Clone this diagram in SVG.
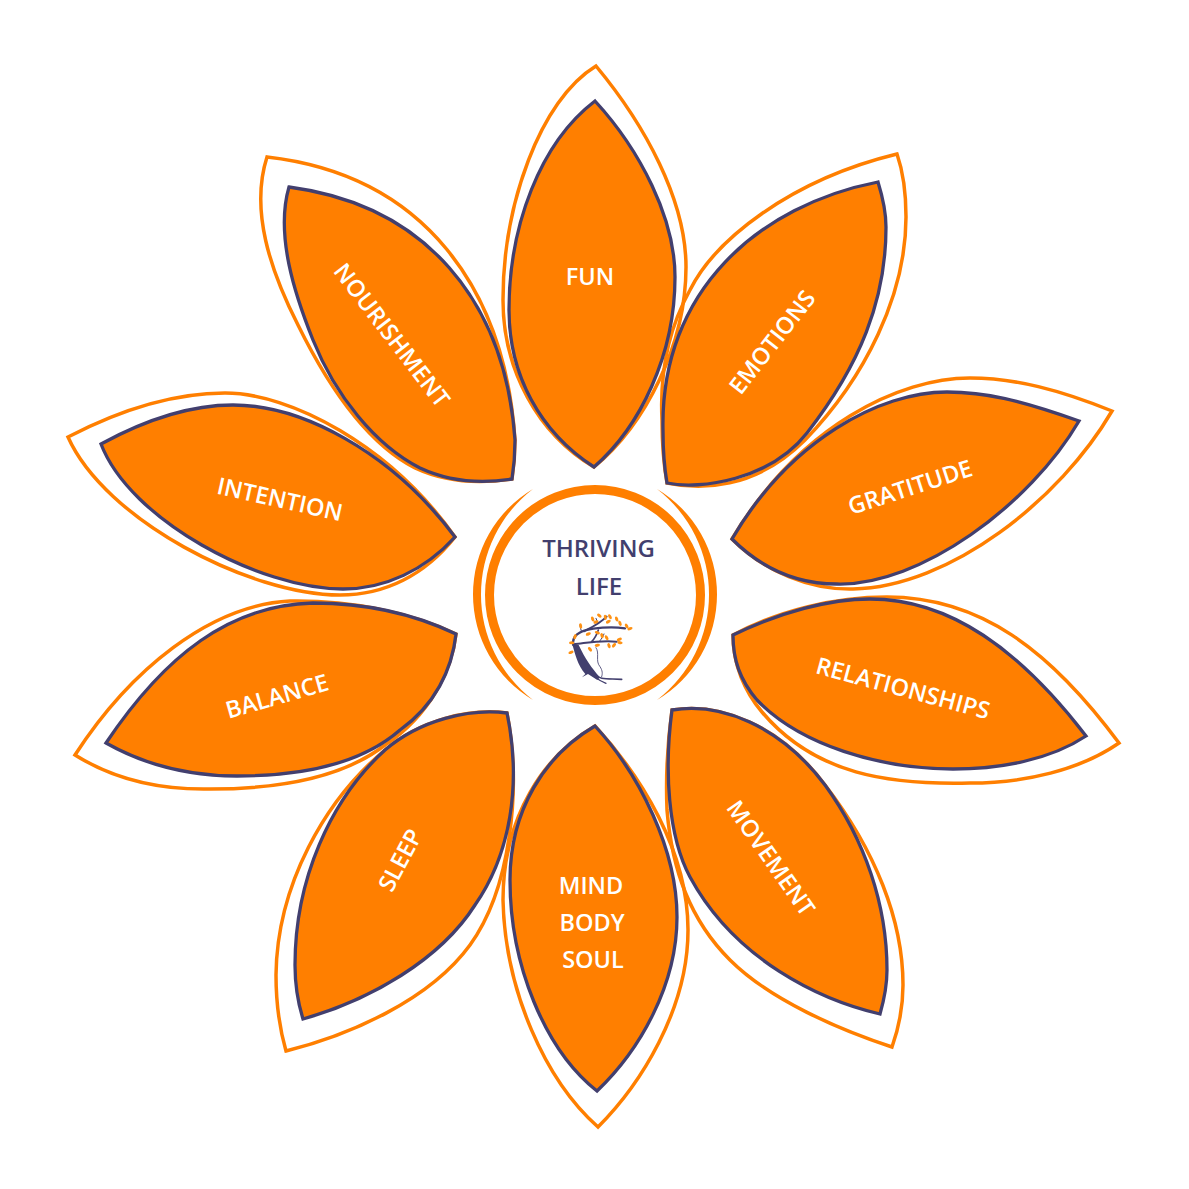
<svg xmlns="http://www.w3.org/2000/svg" width="1189" height="1189" viewBox="0 0 1189 1189">
<style>
.o{fill:none;stroke:#ff7f00;stroke-width:3.5;stroke-linejoin:miter}
.i{fill:#ff7f00;stroke:#423f6e;stroke-width:3.3;stroke-linejoin:miter}
.t{font-family:"Open Sans","Noto Sans",sans-serif;font-weight:600;font-size:23.5px;fill:#fff;text-anchor:middle}
.c{font-family:"Open Sans","Noto Sans",sans-serif;font-weight:600;font-size:24px;fill:#423f6e;text-anchor:middle}
.b{fill:none;stroke:#423f6e;stroke-linecap:round}
.l{fill:#ff9214}
</style>
<defs><ellipse id="leaf" class="l" rx="8" ry="4.500"/></defs>
<rect width="1189" height="1189" fill="#fff"/>
<g id="outlines">
<path class="o" d="M596,66 C540,100 503,205 503,300 C503,370 538,434 594,467 C645,425 686,345 686,267 C686,200 645,125 596,66 Z"/>
<path class="o" d="M897,154 C790,180 715,240 690,290 C665,335 660,380 662,420 Q662,455 667,483 C700,490 755,490 805,440 C865,378 906,295 906,217 Q906,180 897,154 Z"/>
<path class="o" d="M1112,411 C1060,390 1015,378 970,378 C900,378 800,425 732,539 C765,572 810,590 853,589 C950,587 1060,500 1112,411 Z"/>
<path class="o" d="M733,635 C780,610 835,597 887,597 C980,597 1050,650 1119,743 C1080,770 1025,783 970,783 C890,785 815,775 762,712 C745,692 733,665 733,635 Z"/>
<path class="o" d="M672,710 C720,702 780,725 825,785 C875,850 903,920 903,985 C903,1010 898,1030 892,1047 C840,1030 770,1000 730,960 C690,920 672,870 667,810 Q665,760 672,710 Z"/>
<path class="o" d="M595,726 C545,755 503,815 503,900 C505,990 545,1080 598,1127 C640,1085 688,1010 688,930 C688,850 640,775 595,726 Z"/>
<path class="o" d="M507,713 C470,708 420,720 385,750 C325,800 277,885 276,975 C276,1000 280,1030 286,1051 C350,1035 430,1000 470,945 C510,890 522,790 507,713 Z"/>
<path class="o" d="M456,634 C410,612 350,600 290,601 C210,605 130,670 75,755 C115,780 160,790 210,789 C270,789 340,780 385,745 C430,715 452,670 456,634 Z"/>
<path class="o" d="M68,437 C120,410 175,393 225,393 C290,393 390,445 455,537 C425,575 385,595 340,595 C250,595 105,520 68,437 Z"/>
<path class="o" d="M267,157 C425,175 505,290 515,440 Q515,460 512,479 C480,484 445,482 415,468 C370,445 330,390 298,325 C270,270 250,210 267,157 Z"/>
</g>
<g id="fun"><path class="i" d="M595,101 C540,143 509,226 509,310 C509,375 540,432 594,467 C640,427 675,355 675,277 C675,218 640,150 595,101 Z"/>
<text class="t" x="590" y="284.500">FUN</text></g>
<g id="emotions"><path class="i" d="M878,182 C760,205 660,290 663,430 Q663,460 667,483 C700,490 770,480 807,433 C860,365 886,300 886,227 C886,212 882,195 878,182 Z"/>
<text class="t" transform="translate(772 342) rotate(-52)" y="8.500">EMOTIONS</text></g>
<g id="gratitude"><path class="i" d="M1079,421 C1020,400 985,392 947,392 C880,392 790,440 732,539 C765,572 800,584 837,584 C920,586 1030,505 1079,421 Z"/>
<text class="t" transform="translate(910 487) rotate(-18)" y="8.500">GRATITUDE</text></g>
<g id="relationships"><path class="i" d="M733,635 C780,612 830,599 870,599 C950,599 1020,650 1086,736 C1050,760 1000,769 953,769 C880,769 800,745 757,700 C740,680 733,660 733,635 Z"/>
<text class="t" transform="translate(903 688) rotate(15)" y="8.500">RELATIONSHIPS</text></g>
<g id="movement"><path class="i" d="M672,710 C720,702 780,725 825,785 C865,840 887,905 887,970 C887,985 884,1000 880,1014 C820,1000 735,960 690,877 C668,836 664,770 672,710 Z"/>
<text class="t" transform="translate(771 858) rotate(55)" y="8.500">MOVEMENT</text></g>
<g id="mind-body-soul"><path class="i" d="M595,726 C545,755 510,810 510,880 C510,965 545,1050 597,1091 C640,1050 677,985 677,917 C677,850 640,775 595,726 Z"/>
<text class="t" x="591" y="894">MIND</text><text class="t" x="592" y="931">BODY</text><text class="t" x="593" y="968">SOUL</text></g>
<g id="sleep"><path class="i" d="M507,713 C470,708 420,720 385,750 C330,800 295,880 295,965 C295,985 298,1003 303,1019 C370,1000 440,960 475,905 C510,855 522,785 507,713 Z"/>
<text class="t" transform="translate(400 860) rotate(-62)" y="8.500">SLEEP</text></g>
<g id="balance"><path class="i" d="M456,634 C410,612 360,603 313,603 C230,605 165,655 106,743 C145,765 190,776 237,776 C300,776 360,765 400,730 C435,705 452,670 456,634 Z"/>
<text class="t" transform="translate(277 696) rotate(-16)" y="8.500">BALANCE</text></g>
<g id="intention"><path class="i" d="M101,444 C145,420 190,405 233,405 C300,405 390,450 455,537 C425,570 385,589 343,589 C260,589 130,520 101,444 Z"/>
<text class="t" transform="translate(280 499) rotate(12.500)" y="8.500">INTENTION</text></g>
<g id="nourishment"><path class="i" d="M289,187 C425,205 505,300 515,440 Q515,460 512,479 C480,484 450,482 420,468 C375,445 335,395 313,340 C295,295 275,235 289,187 Z"/>
<text class="t" transform="translate(392 335) rotate(52.500)" y="8.500">NOURISHMENT</text></g>
<g id="center">
<circle cx="595" cy="595" r="105.500" fill="#fff" stroke="#ff7f00" stroke-width="9"/>
<path fill="#ff7f00" d="M533,489 A122.750,122.750 0 0 0 533,700 A133,133 0 0 1 533,489 Z"/>
<path fill="#ff7f00" d="M657,489 A122.750,122.750 0 0 1 657,700 A133,133 0 0 0 657,489 Z"/>
<text class="c" x="598.500" y="557">THRIVING</text>
<text class="c" x="599" y="595">LIFE</text>
<g id="tree" transform="translate(460 470) scale(.3333)">
<path fill="#423f6e" d="M336,520 C345,550 352,585 376,612 L366,622 L384,612 L412,630 L420,622 C395,595 375,565 356,525 Z"/>
<path class="b" stroke-width="7" d="M340,525 C335,500 355,482 400,476 C430,472 460,470 495,475"/>
<path class="b" stroke-width="6" d="M372,484 C395,472 418,462 440,440"/>
<path class="b" stroke-width="6" d="M345,522 C365,522 410,510 470,515"/>
<path class="b" stroke-width="5" d="M395,515 C405,505 410,495 415,480"/>
<path class="b" stroke-width="3" d="M365,485 C362,478 361,472 360,465"/>
<path class="b" stroke-width="3" d="M420,512 C425,505 430,500 432,492"/>
<path class="b" stroke-width="3" d="M415,460 C412,455 410,450 408,445"/>
<path class="b" stroke-width="5" d="M400,612 C420,632 450,625 485,628"/>
<path class="b" stroke-width="4" d="M405,620 C415,630 425,635 438,640"/>
<path class="b" stroke-width="2.500" d="M408,533 C420,550 405,572 420,590 C428,602 428,612 425,620"/>
<use href="#leaf" transform="translate(398 447) rotate(70)"/><use href="#leaf" transform="translate(418 437) rotate(40)"/><use href="#leaf" transform="translate(436 442) rotate(80)"/><use href="#leaf" transform="translate(450 440) rotate(60)"/><use href="#leaf" transform="translate(470 447) rotate(70)"/><use href="#leaf" transform="translate(408 456) rotate(-20)"/><use href="#leaf" transform="translate(445 455) rotate(-30)"/><use href="#leaf" transform="translate(500 468) rotate(60)"/><use href="#leaf" transform="translate(510 476) rotate(-20)"/><use href="#leaf" transform="translate(480 460) rotate(70)"/><use href="#leaf" transform="translate(362 468) rotate(80)"/><use href="#leaf" transform="translate(345 500) rotate(-70)"/><use href="#leaf" transform="translate(385 492) rotate(-20)"/><use href="#leaf" transform="translate(412 488) rotate(20)"/><use href="#leaf" transform="translate(426 497) rotate(70)"/><use href="#leaf" transform="translate(440 503) rotate(60)"/><use href="#leaf" transform="translate(478 508) rotate(-20)"/><use href="#leaf" transform="translate(480 518) rotate(10)"/><use href="#leaf" transform="translate(447 527) rotate(70)"/><use href="#leaf" transform="translate(462 526) rotate(-50)"/><use href="#leaf" transform="translate(335 518) rotate(0)"/><use href="#leaf" transform="translate(333 547) rotate(-20)"/><use href="#leaf" transform="translate(390 538) rotate(50)"/><use href="#leaf" transform="translate(412 526) rotate(-10)"/>
</g>
</g>
</svg>
